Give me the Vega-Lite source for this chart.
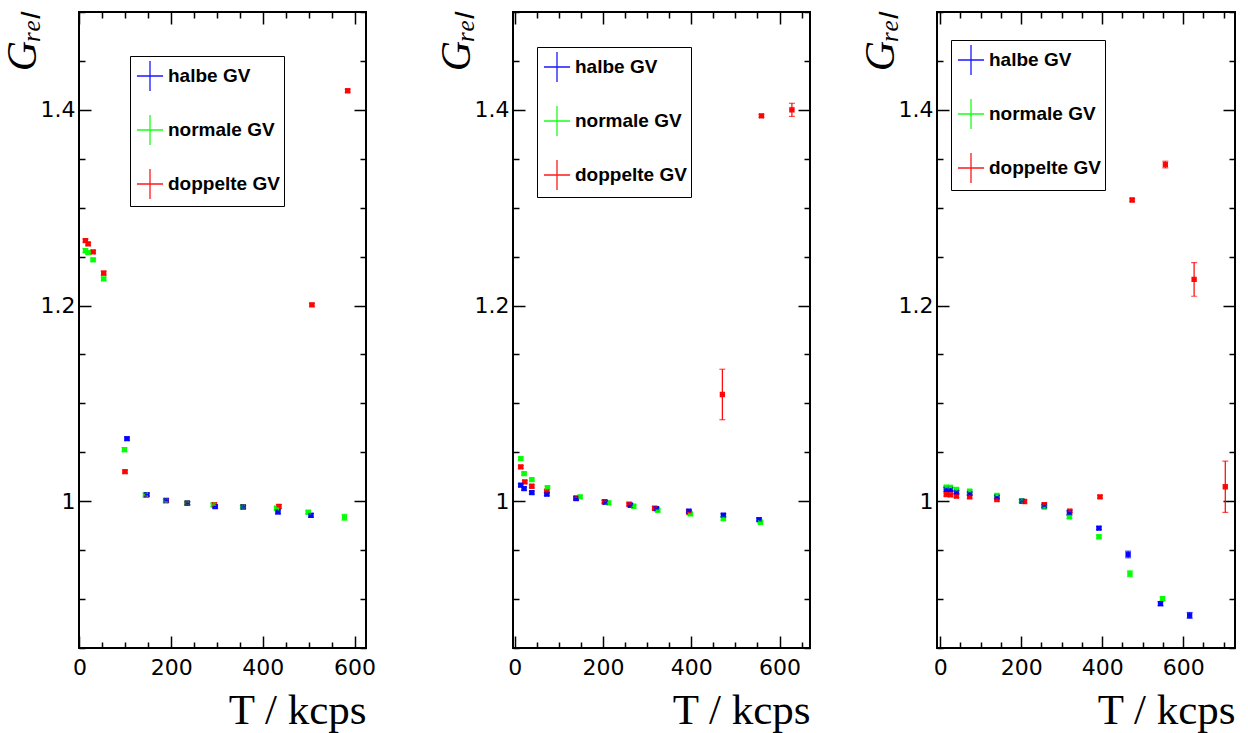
{
  "$schema": "https://vega.github.io/schema/vega-lite/v6.json",
  "padding": {"left": 0, "top": 0, "right": 12, "bottom": 0},
  "background": "white",
  "data": {"values": [
    {"p":1,"s":"doppelte GV","x":13,"y":1.2664,"xe":4,"ye":0.0015},
    {"p":1,"s":"doppelte GV","x":18.9,"y":1.263,"xe":4,"ye":0.0015},
    {"p":1,"s":"doppelte GV","x":29.8,"y":1.2548,"xe":4,"ye":0.0015},
    {"p":1,"s":"doppelte GV","x":52.8,"y":1.2331,"xe":4,"ye":0.002},
    {"p":1,"s":"doppelte GV","x":99.3,"y":1.0302,"xe":4,"ye":0.0015},
    {"p":1,"s":"doppelte GV","x":145,"y":1.0064,"xe":4,"ye":0.0015},
    {"p":1,"s":"doppelte GV","x":189,"y":1.0006,"xe":4,"ye":0.0015},
    {"p":1,"s":"doppelte GV","x":235,"y":0.998,"xe":4,"ye":0.0015},
    {"p":1,"s":"doppelte GV","x":294,"y":0.9966,"xe":4,"ye":0.0015},
    {"p":1,"s":"doppelte GV","x":357,"y":0.9943,"xe":4,"ye":0.0015},
    {"p":1,"s":"doppelte GV","x":435,"y":0.9946,"xe":4,"ye":0.002},
    {"p":1,"s":"doppelte GV","x":507,"y":1.2007,"xe":4,"ye":0.0015},
    {"p":1,"s":"doppelte GV","x":585,"y":1.4195,"xe":4,"ye":0.0015},
    {"p":1,"s":"normale GV","x":13,"y":1.2561,"xe":4,"ye":0.002},
    {"p":1,"s":"normale GV","x":18.9,"y":1.2541,"xe":4,"ye":0.0015},
    {"p":1,"s":"normale GV","x":29.8,"y":1.2467,"xe":4,"ye":0.0015},
    {"p":1,"s":"normale GV","x":52.8,"y":1.2273,"xe":4,"ye":0.0015},
    {"p":1,"s":"normale GV","x":98.2,"y":1.0527,"xe":4,"ye":0.002},
    {"p":1,"s":"normale GV","x":144,"y":1.0066,"xe":4,"ye":0.0015},
    {"p":1,"s":"normale GV","x":188,"y":1.0005,"xe":4,"ye":0.0015},
    {"p":1,"s":"normale GV","x":235,"y":0.9979,"xe":4,"ye":0.0015},
    {"p":1,"s":"normale GV","x":292,"y":0.9962,"xe":4,"ye":0.0015},
    {"p":1,"s":"normale GV","x":356,"y":0.9942,"xe":4,"ye":0.0015},
    {"p":1,"s":"normale GV","x":430,"y":0.9928,"xe":4,"ye":0.0015},
    {"p":1,"s":"normale GV","x":499,"y":0.9887,"xe":4,"ye":0.0015},
    {"p":1,"s":"normale GV","x":578,"y":0.9836,"xe":4,"ye":0.003},
    {"p":1,"s":"halbe GV","x":103.7,"y":1.0639,"xe":4,"ye":0.0015},
    {"p":1,"s":"halbe GV","x":147,"y":1.0067,"xe":4,"ye":0.0015},
    {"p":1,"s":"halbe GV","x":189,"y":1.0009,"xe":4,"ye":0.0015},
    {"p":1,"s":"halbe GV","x":235.4,"y":0.9979,"xe":4,"ye":0.0015},
    {"p":1,"s":"halbe GV","x":296,"y":0.9945,"xe":4,"ye":0.0015},
    {"p":1,"s":"halbe GV","x":357,"y":0.9942,"xe":4,"ye":0.0015},
    {"p":1,"s":"halbe GV","x":433,"y":0.9891,"xe":4,"ye":0.002},
    {"p":1,"s":"halbe GV","x":505,"y":0.9856,"xe":4,"ye":0.002},

    {"p":2,"s":"doppelte GV","x":13.6,"y":1.0351,"xe":4,"ye":0.0015},
    {"p":2,"s":"doppelte GV","x":22.7,"y":1.0198,"xe":4,"ye":0.0015},
    {"p":2,"s":"doppelte GV","x":38.6,"y":1.0153,"xe":4,"ye":0.0015},
    {"p":2,"s":"doppelte GV","x":72.7,"y":1.0102,"xe":4,"ye":0.0015},
    {"p":2,"s":"doppelte GV","x":139,"y":1.0035,"xe":4,"ye":0.0015},
    {"p":2,"s":"doppelte GV","x":203,"y":0.9995,"xe":4,"ye":0.0015},
    {"p":2,"s":"doppelte GV","x":259,"y":0.9969,"xe":4,"ye":0.0015},
    {"p":2,"s":"doppelte GV","x":317,"y":0.9928,"xe":4,"ye":0.0015},
    {"p":2,"s":"doppelte GV","x":395,"y":0.9887,"xe":4,"ye":0.0015},
    {"p":2,"s":"doppelte GV","x":470.4,"y":1.1091,"xe":4,"ye":0.0258},
    {"p":2,"s":"doppelte GV","x":559,"y":1.3939,"xe":4,"ye":0.0015},
    {"p":2,"s":"doppelte GV","x":628,"y":1.4,"xe":4,"ye":0.0067},
    {"p":2,"s":"normale GV","x":13.6,"y":1.0436,"xe":4,"ye":0.0015},
    {"p":2,"s":"normale GV","x":21.1,"y":1.0282,"xe":4,"ye":0.0015},
    {"p":2,"s":"normale GV","x":38.6,"y":1.0221,"xe":4,"ye":0.0015},
    {"p":2,"s":"normale GV","x":74.1,"y":1.0139,"xe":4,"ye":0.0015},
    {"p":2,"s":"normale GV","x":148,"y":1.0044,"xe":4,"ye":0.0015},
    {"p":2,"s":"normale GV","x":212.7,"y":0.9983,"xe":4,"ye":0.0015},
    {"p":2,"s":"normale GV","x":269.5,"y":0.9949,"xe":4,"ye":0.0015},
    {"p":2,"s":"normale GV","x":324,"y":0.9908,"xe":4,"ye":0.0015},
    {"p":2,"s":"normale GV","x":397.7,"y":0.987,"xe":4,"ye":0.0015},
    {"p":2,"s":"normale GV","x":472.7,"y":0.9822,"xe":4,"ye":0.0015},
    {"p":2,"s":"normale GV","x":556.8,"y":0.9785,"xe":4,"ye":0.0015},
    {"p":2,"s":"halbe GV","x":13.6,"y":1.0164,"xe":4,"ye":0.0015},
    {"p":2,"s":"halbe GV","x":21.1,"y":1.0129,"xe":4,"ye":0.0015},
    {"p":2,"s":"halbe GV","x":38.6,"y":1.0088,"xe":4,"ye":0.0015},
    {"p":2,"s":"halbe GV","x":72.7,"y":1.0072,"xe":4,"ye":0.0015},
    {"p":2,"s":"halbe GV","x":139,"y":1.0027,"xe":4,"ye":0.0015},
    {"p":2,"s":"halbe GV","x":205,"y":0.999,"xe":4,"ye":0.0015},
    {"p":2,"s":"halbe GV","x":262,"y":0.9959,"xe":4,"ye":0.0015},
    {"p":2,"s":"halbe GV","x":321,"y":0.9924,"xe":4,"ye":0.0015},
    {"p":2,"s":"halbe GV","x":394.5,"y":0.9898,"xe":4,"ye":0.0015},
    {"p":2,"s":"halbe GV","x":472.7,"y":0.9857,"xe":4,"ye":0.0015},
    {"p":2,"s":"halbe GV","x":553.6,"y":0.9812,"xe":4,"ye":0.0015},

    {"p":3,"s":"doppelte GV","x":15,"y":1.0068,"xe":4,"ye":0.0015},
    {"p":3,"s":"doppelte GV","x":25,"y":1.0065,"xe":4,"ye":0.0015},
    {"p":3,"s":"doppelte GV","x":40,"y":1.0052,"xe":4,"ye":0.0015},
    {"p":3,"s":"doppelte GV","x":72.7,"y":1.0045,"xe":4,"ye":0.0015},
    {"p":3,"s":"doppelte GV","x":140,"y":1.0017,"xe":4,"ye":0.0015},
    {"p":3,"s":"doppelte GV","x":208,"y":0.9997,"xe":4,"ye":0.0015},
    {"p":3,"s":"doppelte GV","x":257,"y":0.9966,"xe":4,"ye":0.0015},
    {"p":3,"s":"doppelte GV","x":320,"y":0.9899,"xe":4,"ye":0.0015},
    {"p":3,"s":"doppelte GV","x":394.6,"y":1.0045,"xe":4,"ye":0.0015},
    {"p":3,"s":"doppelte GV","x":474,"y":1.3079,"xe":4,"ye":0.0015},
    {"p":3,"s":"doppelte GV","x":556,"y":1.3441,"xe":4,"ye":0.0034},
    {"p":3,"s":"doppelte GV","x":627,"y":1.2267,"xe":4,"ye":0.0172},
    {"p":3,"s":"doppelte GV","x":704,"y":1.0148,"xe":4,"ye":0.0262},
    {"p":3,"s":"normale GV","x":15,"y":1.0144,"xe":4,"ye":0.0015},
    {"p":3,"s":"normale GV","x":25,"y":1.0142,"xe":4,"ye":0.0015},
    {"p":3,"s":"normale GV","x":40,"y":1.012,"xe":4,"ye":0.0015},
    {"p":3,"s":"normale GV","x":72.7,"y":1.0103,"xe":4,"ye":0.0015},
    {"p":3,"s":"normale GV","x":140,"y":1.0059,"xe":4,"ye":0.0015},
    {"p":3,"s":"normale GV","x":201,"y":1.0003,"xe":4,"ye":0.0015},
    {"p":3,"s":"normale GV","x":257,"y":0.994,"xe":4,"ye":0.0015},
    {"p":3,"s":"normale GV","x":319,"y":0.9841,"xe":4,"ye":0.0015},
    {"p":3,"s":"normale GV","x":392,"y":0.9637,"xe":4,"ye":0.0015},
    {"p":3,"s":"normale GV","x":468.5,"y":0.9259,"xe":4,"ye":0.003},
    {"p":3,"s":"normale GV","x":549,"y":0.9004,"xe":4,"ye":0.002},
    {"p":3,"s":"halbe GV","x":15,"y":1.0122,"xe":4,"ye":0.002},
    {"p":3,"s":"halbe GV","x":25,"y":1.012,"xe":4,"ye":0.002},
    {"p":3,"s":"halbe GV","x":40,"y":1.0093,"xe":4,"ye":0.0015},
    {"p":3,"s":"halbe GV","x":72.7,"y":1.0079,"xe":4,"ye":0.0015},
    {"p":3,"s":"halbe GV","x":140,"y":1.0042,"xe":4,"ye":0.0015},
    {"p":3,"s":"halbe GV","x":201.7,"y":1.0001,"xe":4,"ye":0.0015},
    {"p":3,"s":"halbe GV","x":257,"y":0.995,"xe":4,"ye":0.0015},
    {"p":3,"s":"halbe GV","x":319,"y":0.9882,"xe":4,"ye":0.002},
    {"p":3,"s":"halbe GV","x":392,"y":0.9725,"xe":4,"ye":0.0015},
    {"p":3,"s":"halbe GV","x":464,"y":0.9456,"xe":4,"ye":0.0034},
    {"p":3,"s":"halbe GV","x":544,"y":0.8953,"xe":4,"ye":0.002},
    {"p":3,"s":"halbe GV","x":616,"y":0.8833,"xe":4,"ye":0.003}
  ]},
  "bounds": "flush",
  "spacing": 147,
  "resolve": {"scale": {"color": "independent"}},
  "hconcat": [
    {
      "width": 287, "height": 636,
      "transform": [{"filter": "datum.p == 1"}],
      "resolve": {"axis": {"x": "independent", "y": "independent"}},
      "layer": [
        {
          "mark": {"type": "point", "shape": "square", "filled": false, "size": 8, "strokeWidth": 2.5, "opacity": 0.9},
          "encoding": {
            "x": {"field": "x", "type": "quantitative", "scale": {"domain": [-1, 625], "nice": false, "zero": false},
                  "axis": {"orient": "bottom", "values": [0,50,100,150,200,250,300,350,400,450,500,550,600],
                           "labelExpr": "datum.value % 200 == 0 ? format(datum.value, 'd') : ''",
                           "tickSize": {"condition": {"test": "datum.value % 200 == 0", "value": -12}, "value": -6},
                           "labelPadding": 21, "labelFlush": false, "labelBound": false, "labelOverlap": false,
                           "title": "T / kcps", "titleAnchor": "end", "titleFont": "Liberation Serif", "titleFontSize": 43, "titlePadding": 5}},
            "y": {"field": "y", "type": "quantitative", "scale": {"domain": [0.85, 1.5], "nice": false, "zero": false},
                  "axis": {"orient": "left", "values": [0.85,0.9,0.95,1,1.05,1.1,1.15,1.2,1.25,1.3,1.35,1.4,1.45,1.5],
                           "labelExpr": "(abs(datum.value-1)<0.001||abs(datum.value-1.2)<0.001||abs(datum.value-1.4)<0.001) ? format(datum.value, '.1~f') : ''",
                           "tickSize": {"condition": {"test": "abs(datum.value-1)<0.001||abs(datum.value-1.2)<0.001||abs(datum.value-1.4)<0.001", "value": -12}, "value": -6},
                           "labelPadding": 16, "labelOverlap": false, "labelFlush": false,
                           "title": "Gᵣₑₗ", "titleAnchor": "end", "titleFont": "Liberation Serif", "titleFontStyle": "italic", "titleFontSize": 42, "titlePadding": -4}},
            "color": {"field": "s", "type": "nominal", "scale": {"domain": ["halbe GV", "normale GV", "doppelte GV"], "range": ["#0000ff", "#00ff00", "#ff0000"]},
                      "legend": {"orient": "none", "legendX": 51, "legendY": 44}}
          }
        },
        {
          "mark": {"type": "errorbar", "ticks": {"size": 6}, "thickness": 1.2},
          "encoding": {
            "x": {"field": "x", "type": "quantitative", "axis": null},
            "y": {"field": "y", "type": "quantitative", "axis": null},
            "yError": {"field": "ye"},
            "color": {"field": "s", "type": "nominal"}
          }
        },
        {
          "mark": {"type": "errorbar", "ticks": {"size": 5}, "thickness": 1.2},
          "encoding": {
            "x": {"field": "x", "type": "quantitative", "axis": null},
            "y": {"field": "y", "type": "quantitative", "axis": null},
            "xError": {"field": "xe"},
            "color": {"field": "s", "type": "nominal"}
          }
        },
        {
          "mark": {"type": "point", "opacity": 0},
          "encoding": {
            "x": {"field": "x", "type": "quantitative",
                  "axis": {"orient": "top", "values": [0,50,100,150,200,250,300,350,400,450,500,550,600], "labels": false, "title": null,
                           "tickSize": {"condition": {"test": "datum.value % 200 == 0", "value": -12}, "value": -6}}},
            "y": {"field": "y", "type": "quantitative",
                  "axis": {"orient": "right", "values": [0.85,0.9,0.95,1,1.05,1.1,1.15,1.2,1.25,1.3,1.35,1.4,1.45,1.5], "labels": false, "title": null,
                           "tickSize": {"condition": {"test": "abs(datum.value-1)<0.001||abs(datum.value-1.2)<0.001||abs(datum.value-1.4)<0.001", "value": -12}, "value": -6}}}
          }
        }
      ]
    },
    {
      "bounds": "flush",
      "spacing": 127,
      "resolve": {"scale": {"color": "independent"}},
      "hconcat": [
        {
          "width": 297, "height": 636,
          "transform": [{"filter": "datum.p == 2"}],
          "resolve": {"axis": {"x": "independent", "y": "independent"}},
          "layer": [
            {
              "mark": {"type": "point", "shape": "square", "filled": false, "size": 8, "strokeWidth": 2.5, "opacity": 0.9},
              "encoding": {
                "x": {"field": "x", "type": "quantitative", "scale": {"domain": [-4, 669], "nice": false, "zero": false},
                      "axis": {"orient": "bottom", "values": [0,50,100,150,200,250,300,350,400,450,500,550,600,650],
                               "labelExpr": "datum.value % 200 == 0 ? format(datum.value, 'd') : ''",
                               "tickSize": {"condition": {"test": "datum.value % 200 == 0", "value": -12}, "value": -6},
                               "labelPadding": 21, "labelFlush": false, "labelBound": false, "labelOverlap": false,
                               "title": "T / kcps", "titleAnchor": "end", "titleFont": "Liberation Serif", "titleFontSize": 43, "titlePadding": 5}},
                "y": {"field": "y", "type": "quantitative", "scale": {"domain": [0.85, 1.5], "nice": false, "zero": false},
                      "axis": {"orient": "left", "values": [0.85,0.9,0.95,1,1.05,1.1,1.15,1.2,1.25,1.3,1.35,1.4,1.45,1.5],
                               "labelExpr": "(abs(datum.value-1)<0.001||abs(datum.value-1.2)<0.001||abs(datum.value-1.4)<0.001) ? format(datum.value, '.1~f') : ''",
                               "tickSize": {"condition": {"test": "abs(datum.value-1)<0.001||abs(datum.value-1.2)<0.001||abs(datum.value-1.4)<0.001", "value": -12}, "value": -6},
                               "labelPadding": 16, "labelOverlap": false, "labelFlush": false,
                               "title": "Gᵣₑₗ", "titleAnchor": "end", "titleFont": "Liberation Serif", "titleFontStyle": "italic", "titleFontSize": 42, "titlePadding": -4}},
                "color": {"field": "s", "type": "nominal", "scale": {"domain": ["halbe GV", "normale GV", "doppelte GV"], "range": ["#0000ff", "#00ff00", "#ff0000"]},
                          "legend": {"orient": "none", "legendX": 24, "legendY": 35}}
              }
            },
            {
              "mark": {"type": "errorbar", "ticks": {"size": 6}, "thickness": 1.2},
              "encoding": {
                "x": {"field": "x", "type": "quantitative", "axis": null},
                "y": {"field": "y", "type": "quantitative", "axis": null},
                "yError": {"field": "ye"},
                "color": {"field": "s", "type": "nominal"}
              }
            },
            {
              "mark": {"type": "errorbar", "ticks": {"size": 5}, "thickness": 1.2},
              "encoding": {
                "x": {"field": "x", "type": "quantitative", "axis": null},
                "y": {"field": "y", "type": "quantitative", "axis": null},
                "xError": {"field": "xe"},
                "color": {"field": "s", "type": "nominal"}
              }
            },
            {
              "mark": {"type": "point", "opacity": 0},
              "encoding": {
                "x": {"field": "x", "type": "quantitative",
                      "axis": {"orient": "top", "values": [0,50,100,150,200,250,300,350,400,450,500,550,600,650], "labels": false, "title": null,
                               "tickSize": {"condition": {"test": "datum.value % 200 == 0", "value": -12}, "value": -6}}},
                "y": {"field": "y", "type": "quantitative",
                      "axis": {"orient": "right", "values": [0.85,0.9,0.95,1,1.05,1.1,1.15,1.2,1.25,1.3,1.35,1.4,1.45,1.5], "labels": false, "title": null,
                               "tickSize": {"condition": {"test": "abs(datum.value-1)<0.001||abs(datum.value-1.2)<0.001||abs(datum.value-1.4)<0.001", "value": -12}, "value": -6}}}
              }
            }
          ]
        },
        {
          "width": 298, "height": 636,
          "transform": [{"filter": "datum.p == 3"}],
          "resolve": {"axis": {"x": "independent", "y": "independent"}},
          "layer": [
            {
              "mark": {"type": "point", "shape": "square", "filled": false, "size": 8, "strokeWidth": 2.5, "opacity": 0.9},
              "encoding": {
                "x": {"field": "x", "type": "quantitative", "scale": {"domain": [-8, 728], "nice": false, "zero": false},
                      "axis": {"orient": "bottom", "values": [0,50,100,150,200,250,300,350,400,450,500,550,600,650,700],
                               "labelExpr": "datum.value % 200 == 0 ? format(datum.value, 'd') : ''",
                               "tickSize": {"condition": {"test": "datum.value % 200 == 0", "value": -12}, "value": -6},
                               "labelPadding": 21, "labelFlush": false, "labelBound": false, "labelOverlap": false,
                               "title": "T / kcps", "titleAnchor": "end", "titleFont": "Liberation Serif", "titleFontSize": 43, "titlePadding": 5}},
                "y": {"field": "y", "type": "quantitative", "scale": {"domain": [0.85, 1.5], "nice": false, "zero": false},
                      "axis": {"orient": "left", "values": [0.85,0.9,0.95,1,1.05,1.1,1.15,1.2,1.25,1.3,1.35,1.4,1.45,1.5],
                               "labelExpr": "(abs(datum.value-1)<0.001||abs(datum.value-1.2)<0.001||abs(datum.value-1.4)<0.001) ? format(datum.value, '.1~f') : ''",
                               "tickSize": {"condition": {"test": "abs(datum.value-1)<0.001||abs(datum.value-1.2)<0.001||abs(datum.value-1.4)<0.001", "value": -12}, "value": -6},
                               "labelPadding": 16, "labelOverlap": false, "labelFlush": false,
                               "title": "Gᵣₑₗ", "titleAnchor": "end", "titleFont": "Liberation Serif", "titleFontStyle": "italic", "titleFontSize": 42, "titlePadding": -4}},
                "color": {"field": "s", "type": "nominal", "scale": {"domain": ["halbe GV", "normale GV", "doppelte GV"], "range": ["#0000ff", "#00ff00", "#ff0000"]},
                          "legend": {"orient": "none", "legendX": 14, "legendY": 28}}
              }
            },
            {
              "mark": {"type": "errorbar", "ticks": {"size": 6}, "thickness": 1.2},
              "encoding": {
                "x": {"field": "x", "type": "quantitative", "axis": null},
                "y": {"field": "y", "type": "quantitative", "axis": null},
                "yError": {"field": "ye"},
                "color": {"field": "s", "type": "nominal"}
              }
            },
            {
              "mark": {"type": "errorbar", "ticks": {"size": 5}, "thickness": 1.2},
              "encoding": {
                "x": {"field": "x", "type": "quantitative", "axis": null},
                "y": {"field": "y", "type": "quantitative", "axis": null},
                "xError": {"field": "xe"},
                "color": {"field": "s", "type": "nominal"}
              }
            },
            {
              "mark": {"type": "point", "opacity": 0},
              "encoding": {
                "x": {"field": "x", "type": "quantitative",
                      "axis": {"orient": "top", "values": [0,50,100,150,200,250,300,350,400,450,500,550,600,650,700], "labels": false, "title": null,
                               "tickSize": {"condition": {"test": "datum.value % 200 == 0", "value": -12}, "value": -6}}},
                "y": {"field": "y", "type": "quantitative",
                      "axis": {"orient": "right", "values": [0.85,0.9,0.95,1,1.05,1.1,1.15,1.2,1.25,1.3,1.35,1.4,1.45,1.5], "labels": false, "title": null,
                               "tickSize": {"condition": {"test": "abs(datum.value-1)<0.001||abs(datum.value-1.2)<0.001||abs(datum.value-1.4)<0.001", "value": -12}, "value": -6}}}
              }
            }
          ]
        }
      ]
    }
  ],
  "config": {
    "view": {"stroke": "black", "strokeWidth": 2},
    "axis": {"domain": false, "grid": false, "tickColor": "black", "tickWidth": 1.5,
             "labelFont": "DejaVu Sans", "labelFontSize": 22, "labelColor": "black",
             "titleColor": "black", "titleFontWeight": "normal"},
    "legend": {"title": null, "symbolType": "M-0.87,0H0.87M0,-1V1", "symbolSize": 900, "symbolStrokeWidth": 1.3,
               "labelFont": "Liberation Sans", "labelFontWeight": "bold", "labelFontSize": 19, "labelColor": "black",
               "strokeColor": "black", "fillColor": "white", "padding": 4, "rowPadding": 18, "labelOffset": 2, "labelLimit": 0}
  }
}
